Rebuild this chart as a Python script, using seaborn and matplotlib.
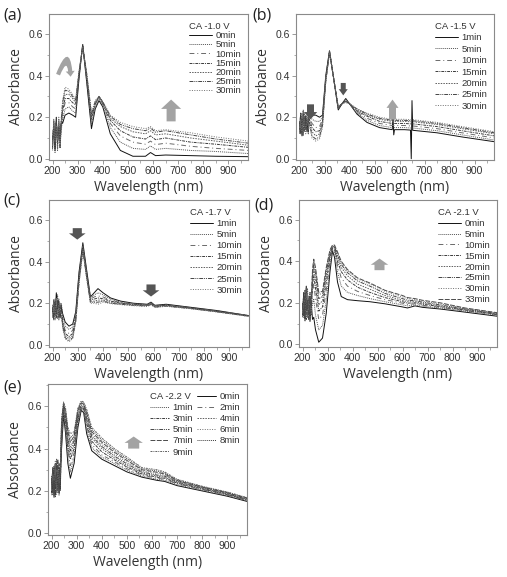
import matplotlib
matplotlib.use("Agg")
import matplotlib.pyplot as plt
import pandas as pd
import seaborn as sns
from matplotlib.patches import FancyArrow, FancyArrowPatch, ArrowStyle
from matplotlib.lines import Line2D
from matplotlib.ticker import MultipleLocator, FormatStrFormatter

# ---------------- data ----------------
WL_A = [200, 205, 210, 215, 220, 225, 230, 235, 240, 250, 265, 280, 292, 305, 320, 335, 355, 370,
        385, 400, 430, 470, 520, 570, 590, 610, 650, 750, 850, 980]
TIMES_A = ["0min", "5min", "10min", "15min", "20min", "25min", "30min"]
ABS_A = [
    [0.05, 0.17, 0.04, 0.19, 0.07, 0.16, 0.09, 0.18, 0.17, 0.21, 0.22, 0.21, 0.20, 0.38, 0.55, 0.38, 0.145, 0.24,
     0.28, 0.25, 0.12, 0.04, 0.012, 0.012, 0.03, 0.015, 0.018, 0.015, 0.012, 0.01],
    [0.08, 0.15, 0.03, 0.17, 0.10, 0.19, 0.06, 0.14, 0.19, 0.24, 0.25, 0.23, 0.22, 0.39, 0.55, 0.39, 0.165, 0.25,
     0.29, 0.26, 0.15, 0.08, 0.05, 0.045, 0.062, 0.045, 0.05, 0.04, 0.035, 0.025],
    [0.06, 0.18, 0.09, 0.14, 0.05, 0.17, 0.11, 0.20, 0.21, 0.27, 0.27, 0.25, 0.24, 0.40, 0.545, 0.40, 0.18, 0.26,
     0.295, 0.265, 0.17, 0.11, 0.08, 0.07, 0.085, 0.068, 0.075, 0.06, 0.05, 0.04],
    [0.10, 0.16, 0.05, 0.20, 0.08, 0.14, 0.12, 0.17, 0.23, 0.29, 0.29, 0.27, 0.26, 0.40, 0.545, 0.41, 0.195, 0.265,
     0.30, 0.27, 0.185, 0.135, 0.105, 0.095, 0.11, 0.092, 0.10, 0.08, 0.07, 0.055],
    [0.07, 0.19, 0.10, 0.15, 0.04, 0.18, 0.08, 0.16, 0.25, 0.31, 0.31, 0.29, 0.27, 0.41, 0.54, 0.41, 0.205, 0.27,
     0.30, 0.27, 0.195, 0.155, 0.13, 0.12, 0.135, 0.115, 0.12, 0.10, 0.085, 0.065],
    [0.09, 0.14, 0.07, 0.18, 0.11, 0.15, 0.05, 0.19, 0.27, 0.33, 0.325, 0.30, 0.28, 0.41, 0.54, 0.42, 0.215, 0.275,
     0.30, 0.275, 0.205, 0.165, 0.145, 0.135, 0.148, 0.128, 0.135, 0.115, 0.095, 0.075],
    [0.04, 0.17, 0.08, 0.16, 0.09, 0.20, 0.07, 0.15, 0.28, 0.345, 0.335, 0.31, 0.285, 0.42, 0.535, 0.42, 0.22, 0.28,
     0.30, 0.275, 0.21, 0.175, 0.155, 0.145, 0.155, 0.135, 0.14, 0.125, 0.105, 0.085],
]

WL_B = [200, 205, 210, 215, 220, 225, 230, 235, 240, 250, 265, 280, 292, 305, 320, 335, 355, 370, 385, 400,
        430, 470, 520, 571, 574, 577, 580, 620, 644, 647, 650, 653, 750, 850, 980]
TIMES_B = ["1min", "5min", "10min", "15min", "20min", "25min", "30min"]
ABS_B = [
    [0.14, 0.21, 0.12, 0.23, 0.15, 0.20, 0.13, 0.19, 0.24, 0.21, 0.21, 0.20, 0.21, 0.40, 0.52, 0.40, 0.235, 0.265, 0.29, 0.265,
     0.215, 0.175, 0.15, 0.14, 0.20, 0.115, 0.14, 0.14, 0.138, 0.0, 0.28, 0.137, 0.125, 0.105, 0.082],
    [0.17, 0.13, 0.22, 0.11, 0.19, 0.16, 0.21, 0.14, 0.22, 0.19, 0.18, 0.18, 0.20, 0.39, 0.52, 0.40, 0.24, 0.265, 0.285, 0.265,
     0.22, 0.185, 0.16, 0.15, 0.15, 0.15, 0.15, 0.15, 0.148, 0.148, 0.148, 0.148, 0.135, 0.115, 0.09],
    [0.12, 0.20, 0.15, 0.24, 0.13, 0.18, 0.16, 0.22, 0.20, 0.17, 0.15, 0.155, 0.19, 0.39, 0.52, 0.40, 0.24, 0.265, 0.28, 0.265,
     0.225, 0.195, 0.17, 0.16, 0.16, 0.16, 0.16, 0.16, 0.158, 0.158, 0.158, 0.158, 0.145, 0.125, 0.10],
    [0.16, 0.22, 0.11, 0.18, 0.20, 0.14, 0.19, 0.12, 0.19, 0.15, 0.13, 0.135, 0.18, 0.38, 0.515, 0.40, 0.245, 0.265, 0.28, 0.265,
     0.23, 0.205, 0.18, 0.17, 0.17, 0.17, 0.17, 0.17, 0.168, 0.168, 0.168, 0.168, 0.155, 0.135, 0.11],
    [0.13, 0.18, 0.20, 0.12, 0.22, 0.15, 0.17, 0.21, 0.18, 0.13, 0.11, 0.12, 0.17, 0.38, 0.515, 0.40, 0.245, 0.265, 0.275, 0.265,
     0.235, 0.21, 0.19, 0.18, 0.18, 0.18, 0.18, 0.18, 0.178, 0.178, 0.178, 0.178, 0.165, 0.145, 0.12],
    [0.18, 0.12, 0.19, 0.16, 0.13, 0.21, 0.14, 0.18, 0.17, 0.11, 0.095, 0.105, 0.16, 0.37, 0.51, 0.40, 0.25, 0.265, 0.275, 0.265,
     0.24, 0.215, 0.195, 0.185, 0.185, 0.185, 0.185, 0.185, 0.183, 0.183, 0.183, 0.183, 0.17, 0.15, 0.125],
    [0.15, 0.19, 0.13, 0.21, 0.17, 0.12, 0.20, 0.16, 0.16, 0.10, 0.085, 0.095, 0.15, 0.37, 0.51, 0.40, 0.25, 0.265, 0.27, 0.265,
     0.24, 0.22, 0.20, 0.19, 0.19, 0.19, 0.19, 0.19, 0.188, 0.188, 0.188, 0.188, 0.175, 0.155, 0.13],
]

WL_C = [200, 205, 210, 215, 220, 225, 230, 235, 240, 250, 265, 280, 292, 305, 320, 335, 350, 365, 380, 400,
        430, 470, 520, 575, 590, 605, 650, 750, 850, 980]
TIMES_C = ["1min", "5min", "10min", "15min", "20min", "25min", "30min"]
ABS_C = [
    [0.16, 0.21, 0.14, 0.25, 0.17, 0.20, 0.13, 0.18, 0.15, 0.11, 0.09, 0.10, 0.16, 0.35, 0.49, 0.36, 0.23, 0.25, 0.27, 0.25,
     0.225, 0.21, 0.20, 0.195, 0.205, 0.19, 0.195, 0.18, 0.165, 0.14],
    [0.19, 0.13, 0.22, 0.15, 0.24, 0.12, 0.18, 0.20, 0.14, 0.09, 0.075, 0.085, 0.15, 0.34, 0.48, 0.35, 0.225, 0.24, 0.25, 0.24,
     0.22, 0.205, 0.198, 0.193, 0.202, 0.188, 0.193, 0.178, 0.163, 0.14],
    [0.13, 0.20, 0.17, 0.23, 0.12, 0.19, 0.16, 0.15, 0.12, 0.07, 0.055, 0.07, 0.14, 0.33, 0.47, 0.34, 0.22, 0.23, 0.235, 0.23,
     0.215, 0.203, 0.196, 0.191, 0.200, 0.186, 0.191, 0.177, 0.162, 0.14],
    [0.17, 0.14, 0.21, 0.13, 0.19, 0.22, 0.14, 0.17, 0.11, 0.055, 0.04, 0.055, 0.13, 0.32, 0.465, 0.335, 0.215, 0.22, 0.225, 0.222,
     0.21, 0.20, 0.194, 0.19, 0.198, 0.185, 0.19, 0.176, 0.161, 0.139],
    [0.15, 0.22, 0.12, 0.18, 0.16, 0.14, 0.20, 0.13, 0.10, 0.045, 0.03, 0.045, 0.12, 0.31, 0.46, 0.33, 0.21, 0.21, 0.215, 0.215,
     0.205, 0.198, 0.192, 0.188, 0.196, 0.183, 0.188, 0.175, 0.16, 0.138],
    [0.18, 0.12, 0.19, 0.16, 0.21, 0.13, 0.17, 0.19, 0.09, 0.035, 0.02, 0.035, 0.115, 0.30, 0.455, 0.325, 0.205, 0.205, 0.205, 0.21,
     0.20, 0.195, 0.19, 0.186, 0.194, 0.181, 0.186, 0.174, 0.159, 0.137],
    [0.14, 0.19, 0.15, 0.22, 0.13, 0.18, 0.15, 0.16, 0.08, 0.03, 0.015, 0.03, 0.11, 0.30, 0.45, 0.32, 0.20, 0.20, 0.195, 0.205,
     0.198, 0.193, 0.188, 0.185, 0.192, 0.18, 0.185, 0.173, 0.158, 0.136],
]

WL_D = [200, 205, 210, 215, 220, 225, 230, 235, 240, 245, 252, 265, 280, 295, 310, 320, 328, 340, 355, 380,
        420, 470, 530, 600, 620, 650, 680, 750, 850, 980]
TIMES_D = ["0min", "5min", "10min", "15min", "20min", "25min", "30min", "33min"]
ABS_D = [
    [0.14, 0.25, 0.12, 0.28, 0.16, 0.22, 0.11, 0.20, 0.12, 0.13, 0.07, 0.01, 0.03, 0.15, 0.35, 0.45, 0.42, 0.30, 0.23, 0.215,
     0.21, 0.205, 0.195, 0.18, 0.175, 0.185, 0.178, 0.17, 0.155, 0.135],
    [0.18, 0.13, 0.24, 0.15, 0.27, 0.14, 0.21, 0.17, 0.19, 0.22, 0.14, 0.07, 0.09, 0.21, 0.38, 0.455, 0.45, 0.35, 0.28, 0.25,
     0.235, 0.22, 0.205, 0.19, 0.185, 0.19, 0.183, 0.175, 0.16, 0.14],
    [0.15, 0.22, 0.17, 0.26, 0.13, 0.20, 0.16, 0.24, 0.25, 0.29, 0.22, 0.12, 0.14, 0.26, 0.40, 0.46, 0.46, 0.38, 0.32, 0.28,
     0.255, 0.235, 0.215, 0.198, 0.192, 0.195, 0.188, 0.178, 0.162, 0.142],
    [0.20, 0.14, 0.23, 0.12, 0.21, 0.18, 0.25, 0.15, 0.29, 0.33, 0.27, 0.16, 0.18, 0.30, 0.42, 0.465, 0.465, 0.40, 0.35, 0.31,
     0.275, 0.25, 0.225, 0.205, 0.198, 0.20, 0.193, 0.182, 0.165, 0.144],
    [0.13, 0.21, 0.16, 0.27, 0.14, 0.23, 0.12, 0.19, 0.32, 0.36, 0.31, 0.19, 0.21, 0.33, 0.43, 0.47, 0.47, 0.42, 0.37, 0.33,
     0.29, 0.265, 0.235, 0.212, 0.205, 0.205, 0.198, 0.185, 0.168, 0.146],
    [0.17, 0.24, 0.11, 0.20, 0.18, 0.15, 0.22, 0.14, 0.34, 0.38, 0.34, 0.22, 0.23, 0.35, 0.44, 0.47, 0.47, 0.43, 0.385, 0.345,
     0.305, 0.28, 0.245, 0.22, 0.212, 0.21, 0.203, 0.19, 0.17, 0.148],
    [0.16, 0.19, 0.22, 0.13, 0.24, 0.17, 0.20, 0.15, 0.35, 0.40, 0.36, 0.24, 0.245, 0.36, 0.45, 0.475, 0.475, 0.44, 0.395, 0.355,
     0.315, 0.29, 0.255, 0.228, 0.22, 0.215, 0.208, 0.195, 0.173, 0.15],
    [0.19, 0.14, 0.26, 0.16, 0.21, 0.12, 0.23, 0.18, 0.36, 0.41, 0.37, 0.25, 0.255, 0.37, 0.455, 0.478, 0.478, 0.445, 0.40, 0.36,
     0.32, 0.295, 0.26, 0.235, 0.225, 0.22, 0.212, 0.20, 0.175, 0.152],
]

WL_E = [200, 205, 210, 215, 220, 225, 230, 235, 240, 248, 256, 265, 275, 290, 305, 318, 328, 340, 360, 400,
        450, 500, 560, 620, 650, 700, 800, 900, 980]
TIMES_E = ["0min", "1min", "2min", "3min", "4min", "5min", "6min", "7min", "8min", "9min"]
ABS_E = [
    [0.19, 0.30, 0.17, 0.33, 0.22, 0.28, 0.20, 0.31, 0.40, 0.56, 0.47, 0.33, 0.26, 0.33, 0.50, 0.58, 0.57, 0.47, 0.39, 0.35,
     0.32, 0.29, 0.265, 0.25, 0.245, 0.225, 0.20, 0.175, 0.15],
    [0.24, 0.18, 0.32, 0.21, 0.35, 0.19, 0.27, 0.23, 0.42, 0.57, 0.49, 0.36, 0.29, 0.36, 0.52, 0.585, 0.58, 0.49, 0.405, 0.36,
     0.33, 0.298, 0.27, 0.255, 0.25, 0.23, 0.203, 0.178, 0.152],
    [0.20, 0.29, 0.23, 0.34, 0.18, 0.26, 0.22, 0.30, 0.44, 0.58, 0.51, 0.39, 0.32, 0.38, 0.53, 0.59, 0.585, 0.505, 0.42, 0.37,
     0.338, 0.305, 0.275, 0.26, 0.255, 0.234, 0.206, 0.181, 0.154],
    [0.26, 0.20, 0.31, 0.18, 0.29, 0.24, 0.33, 0.21, 0.46, 0.585, 0.525, 0.41, 0.35, 0.40, 0.54, 0.595, 0.59, 0.52, 0.435, 0.385,
     0.347, 0.313, 0.28, 0.265, 0.26, 0.237, 0.209, 0.183, 0.156],
    [0.21, 0.27, 0.19, 0.32, 0.23, 0.35, 0.18, 0.25, 0.48, 0.59, 0.54, 0.43, 0.37, 0.42, 0.55, 0.60, 0.595, 0.535, 0.45, 0.40,
     0.356, 0.32, 0.285, 0.27, 0.265, 0.24, 0.212, 0.185, 0.158],
    [0.25, 0.19, 0.28, 0.22, 0.33, 0.20, 0.29, 0.24, 0.50, 0.60, 0.55, 0.45, 0.39, 0.44, 0.56, 0.605, 0.60, 0.545, 0.46, 0.41,
     0.365, 0.328, 0.29, 0.275, 0.27, 0.243, 0.214, 0.187, 0.16],
    [0.18, 0.26, 0.22, 0.30, 0.19, 0.27, 0.25, 0.32, 0.51, 0.605, 0.56, 0.46, 0.41, 0.45, 0.57, 0.61, 0.605, 0.555, 0.47, 0.42,
     0.374, 0.336, 0.295, 0.282, 0.275, 0.246, 0.216, 0.189, 0.162],
    [0.23, 0.31, 0.18, 0.27, 0.21, 0.34, 0.19, 0.26, 0.52, 0.61, 0.57, 0.48, 0.43, 0.46, 0.58, 0.615, 0.61, 0.565, 0.48, 0.43,
     0.383, 0.344, 0.30, 0.288, 0.28, 0.249, 0.218, 0.191, 0.164],
    [0.27, 0.21, 0.30, 0.17, 0.28, 0.23, 0.31, 0.20, 0.53, 0.615, 0.58, 0.49, 0.45, 0.47, 0.585, 0.62, 0.615, 0.575, 0.49, 0.44,
     0.392, 0.352, 0.305, 0.294, 0.285, 0.252, 0.22, 0.193, 0.166],
    [0.22, 0.28, 0.25, 0.33, 0.20, 0.30, 0.24, 0.29, 0.54, 0.62, 0.59, 0.50, 0.47, 0.48, 0.59, 0.625, 0.62, 0.585, 0.50, 0.45,
     0.40, 0.36, 0.31, 0.30, 0.29, 0.255, 0.222, 0.195, 0.168],
]

LEGEND_TITLES = ["CA -1.0 V", "CA -1.5 V", "CA -1.7 V", "CA -2.1 V", "CA -2.2 V"]
PANEL_TAGS = ["(a)", "(b)", "(c)", "(d)", "(e)"]
X_TICKS = [200, 300, 400, 500, 600, 700, 800, 900]
Y_TICKS = [0.0, 0.2, 0.4, 0.6]

# ---------------- style ----------------
sns.set_style("white")
plt.rcParams["font.family"] = ["Liberation Sans", "DejaVu Sans"]

LS = ["-", (0, (1, 1)), (0, (5, 3, 1, 3)), (0, (3, 1, 1, 1)), (0, (1.5, 1.2)),
      (0, (4, 1, 1, 1, 1, 1)), (0, (1, 1.5)), (0, (5, 1.5)), (0, (1, 1)), (0, (2, 1, 1, 1)), "-"]
COLS = ["#111111", "#555555", "#6a6a6a", "#3a3a3a", "#5e5e5e", "#444444", "#707070", "#4a4a4a",
        "#3c3c3c", "#606060"]
SPINE = "#8a8a8a"
ARROW_LIGHT = "#a3a3a3"
ARROW_DARK = "#555555"
TXT = "#333333"
LEG_FS = 6.8

fig = plt.figure(figsize=(5.07, 5.77), dpi=100)
W, H = 507.0, 577.0


def add_ax(l, r, t, b):
    return fig.add_axes([l / W, 1 - b / H, (r - l) / W, (b - t) / H])


def draw(ax, wl, times, rows, ylim):
    for i, (t, row) in enumerate(zip(times, rows)):
        df = pd.DataFrame({"wl": wl, "A": row})
        sns.lineplot(data=df, x="wl", y="A", ax=ax, color=COLS[i], lw=0.7,
                     label=t, estimator=None, sort=False)
        ax.lines[-1].set_linestyle(LS[i])
    ax.set_xlim(186, 978)
    ax.set_ylim(*ylim)
    ax.set_xticks(X_TICKS)
    ax.set_yticks(Y_TICKS)
    ax.xaxis.set_minor_locator(MultipleLocator(50))
    ax.yaxis.set_minor_locator(MultipleLocator(0.1))
    ax.yaxis.set_major_formatter(FormatStrFormatter("%.1f"))
    ax.tick_params(which="major", direction="out", length=3, width=0.6, color=SPINE,
                   labelsize=7.5, labelcolor=TXT, pad=1.5, bottom=True, left=True)
    ax.tick_params(which="minor", direction="out", length=1.8, width=0.5, color=SPINE,
                   bottom=True, left=True)
    for s in ax.spines.values():
        s.set_color(SPINE)
        s.set_linewidth(0.8)
    ax.set_xlabel("Wavelength (nm)", fontsize=10, color=TXT, family=["Open Sans"], labelpad=3)
    ax.set_ylabel("Absorbance", fontsize=10, color=TXT, family=["Open Sans"], labelpad=3)


def legend(ax, title, spacing, anchor):
    h, l = ax.get_legend_handles_labels()
    leg = ax.legend(h, l, title=title, loc="upper right", bbox_to_anchor=anchor, frameon=False,
                    fontsize=LEG_FS, title_fontsize=LEG_FS, handlelength=2.4, handletextpad=0.4,
                    labelspacing=spacing, borderpad=0.2, alignment="left")
    for t in leg.get_texts():
        t.set_color(TXT)
    leg.get_title().set_color(TXT)


def block_arrow(ax, x, y0, y1, shaft, head, hl, color):
    ax.add_patch(FancyArrow(x, y0, 0, y1 - y0, width=shaft, head_width=head, head_length=hl,
                            length_includes_head=True, color=color, lw=0, zorder=5))


# (a)
ax = add_ax(49, 248, 14, 160)
draw(ax, WL_A, TIMES_A, ABS_A, (-0.006, 0.697))
legend(ax, LEGEND_TITLES[0], 0.02, (1.0, 0.99))
block_arrow(ax, 672, 0.18, 0.285, 36, 80, 0.045, ARROW_LIGHT)
ax.add_patch(FancyArrowPatch((222, 0.405), (272, 0.395), connectionstyle="arc3,rad=-2.3",
                             arrowstyle=ArrowStyle.Simple(head_length=0.4, head_width=0.65, tail_width=0.3),
                             mutation_scale=10, color=ARROW_LIGHT, lw=0, zorder=5,
                             shrinkA=0, shrinkB=0))

# (b)
ax = add_ax(296, 494, 14, 160)
draw(ax, WL_B, TIMES_B, ABS_B, (-0.006, 0.697))
legend(ax, LEGEND_TITLES[1], 0.25, (1.0, 0.99))
block_arrow(ax, 244, 0.262, 0.19, 28, 54, 0.035, ARROW_DARK)
block_arrow(ax, 375, 0.365, 0.305, 20, 36, 0.03, ARROW_DARK)
block_arrow(ax, 572, 0.19, 0.285, 28, 48, 0.04, ARROW_LIGHT)

# (c)
ax = add_ax(49, 249, 200, 347)
draw(ax, WL_C, TIMES_C, ABS_C, (-0.01, 0.695))
legend(ax, LEGEND_TITLES[2], 0.22, (1.0, 0.99))
block_arrow(ax, 298, 0.56, 0.505, 36, 66, 0.03, ARROW_DARK)
block_arrow(ax, 590, 0.29, 0.232, 36, 66, 0.03, ARROW_DARK)

# (d)
ax = add_ax(299, 497, 200, 347)
draw(ax, WL_D, TIMES_D, ABS_D, (-0.013, 0.695))
legend(ax, LEGEND_TITLES[3], 0.2, (1.0, 0.99))
block_arrow(ax, 508, 0.357, 0.413, 40, 70, 0.03, ARROW_LIGHT)

# (e)
ax = add_ax(48, 247, 384, 535)
draw(ax, WL_E, TIMES_E, ABS_E, (-0.008, 0.705))
h, l = ax.get_legend_handles_labels()
blank = Line2D([], [], color="none")
order = [1, 3, 5, 7, 9, 0, 2, 4, 6, 8]
hh = [blank] + [h[i] for i in order]
ll = [""] + [l[i] for i in order]
leg = ax.legend(hh, ll, ncol=2, loc="upper right", bbox_to_anchor=(1.0, 0.99), frameon=False,
                fontsize=LEG_FS, handlelength=2.0, handletextpad=0.4, labelspacing=0.22,
                columnspacing=0.4, borderpad=0.2)
for t in leg.get_texts():
    t.set_color(TXT)
fig.canvas.draw()
rend = fig.canvas.get_renderer()
bb_zero = leg.get_texts()[6].get_window_extent(rend)    # "0min" label in column 2
bb_leg = leg.get_window_extent(rend)
x0 = bb_leg.x0 + 0.2 * LEG_FS * 100 / 72
y0 = (bb_zero.y0 + bb_zero.y1) / 2
fig.text(x0 / fig.bbox.width, y0 / fig.bbox.height, LEGEND_TITLES[4], fontsize=LEG_FS,
         color=TXT, va="center", ha="left")
block_arrow(ax, 527, 0.40, 0.457, 44, 73, 0.03, ARROW_LIGHT)

# panel tags
for tag, (x, y) in zip(PANEL_TAGS, [(3, 15), (252, 15), (3, 201), (254, 205), (3, 388)]):
    fig.text(x / W, 1 - y / H, tag, fontsize=11.5, family=["Open Sans"], color="#222222",
             va="center", ha="left")

fig.savefig("out.png", dpi=100)
